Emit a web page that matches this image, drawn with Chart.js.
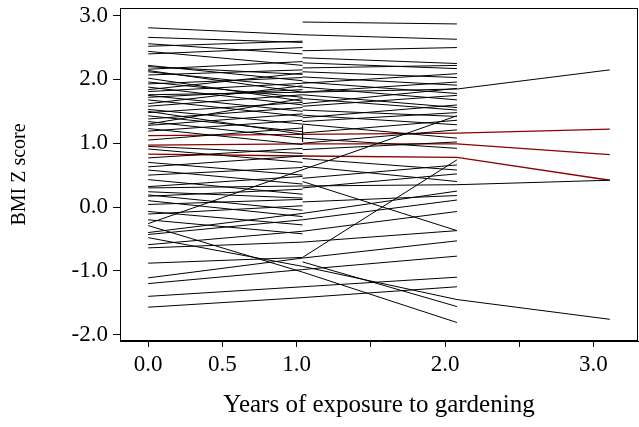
<!DOCTYPE html>
<html>
<head>
<meta charset="utf-8">
<script src="https://cdn.jsdelivr.net/npm/chart.js@4/dist/chart.umd.min.js"></script>
<style>
  html, body { margin: 0; padding: 0; background: #fff; }
  #wrap { width: 639px; height: 427px; }
</style>
</head>
<body>
<div id="wrap"><canvas id="chart" width="639" height="427"></canvas></div>
<script>
// measurement times (years of exposure) for visit 0..3
var years = [0, 1.04, 2.08, 3.11];

// axis ticks
var xTicks = [0, 0.5, 1, 1.5, 2, 2.5, 3];
var xTickLabels = ['0.0', '0.5', '1.0', '', '2.0', '', '3.0'];
var yTicks = [-2, -1, 0, 1, 2, 3];

// BMI z score per child at each visit (null = not measured)
var blackSubjects = [
  // followed from baseline through year 2 (or 3)
  [2.81, 2.70, 2.63, null],
  [1.76, 1.80, 1.85, 2.15],
  [0.30, 0.33, 0.35, 0.42],
  [-0.26, null, 1.43, null],
  [-0.88, -0.79, 0.74, null],
  [-0.48, -0.93, -1.45, -1.76],
  [-0.29, -1.02, -1.81, null],
  [-1.57, -1.42, -1.25, null],
  [-1.40, -1.25, -1.10, null],
  [-1.20, -0.98, -0.77, null],
  [-1.11, -0.80, -0.53, null],
  [-0.64, -0.55, -0.37, null],
  [-0.59, -0.38, -0.07, null],
  [-0.43, -0.20, 0.11, null],
  [-0.40, -0.10, 0.25, null],
  // baseline to year 1 only
  [2.66, 2.58, null, null],
  [2.56, 2.40, null, null],
  [2.52, 2.60, null, null],
  [2.44, 2.22, null, null],
  [2.40, 2.50, null, null],
  [2.22, 1.98, null, null],
  [2.20, 2.08, null, null],
  [2.16, 2.28, null, null],
  [2.14, 1.80, null, null],
  [2.12, 1.88, null, null],
  [2.07, 2.15, null, null],
  [2.02, 1.66, null, null],
  [1.96, 1.72, null, null],
  [1.93, 2.03, null, null],
  [1.88, 1.60, null, null],
  [1.84, 2.10, null, null],
  [1.81, 1.94, null, null],
  [1.75, 1.50, null, null],
  [1.72, 1.84, null, null],
  [1.68, 1.42, null, null],
  [1.62, 1.90, null, null],
  [1.58, 1.76, null, null],
  [1.53, 1.30, null, null],
  [1.50, 1.14, null, null],
  [1.48, 1.64, null, null],
  [1.43, 1.18, null, null],
  [1.38, 1.56, null, null],
  [1.34, 1.08, null, null],
  [1.30, 1.70, null, null],
  [1.28, 1.46, null, null],
  [1.23, 0.98, null, null],
  [1.19, 1.36, null, null],
  [1.05, 1.24, null, null],
  [0.95, 0.84, null, null],
  [0.91, 0.70, null, null],
  [0.77, 0.92, null, null],
  [0.70, 0.50, null, null],
  [0.63, 0.80, null, null],
  [0.58, 0.36, null, null],
  [0.50, 0.62, null, null],
  [0.43, 0.20, null, null],
  [0.32, 0.48, null, null],
  [0.24, 0.14, null, null],
  [0.19, -0.05, null, null],
  [0.17, 0.28, null, null],
  [0.10, -0.15, null, null],
  [0.04, 0.12, null, null],
  [-0.07, -0.28, null, null],
  [-0.11, 0.02, null, null],
  [-0.20, -0.42, null, null],
  // year 1 to year 2 only
  [null, 2.90, 2.87, null],
  [null, 2.45, 2.50, null],
  [null, 2.34, 2.25, null],
  [null, 2.26, 2.17, null],
  [null, 2.18, 2.22, null],
  [null, 1.94, 2.09, null],
  [null, 2.12, 2.03, null],
  [null, 1.80, 1.96, null],
  [null, 2.04, 1.91, null],
  [null, 1.62, 1.86, null],
  [null, 1.58, 1.75, null],
  [null, 1.88, 1.68, null],
  [null, 1.96, 1.78, null],
  [null, 1.40, 1.60, null],
  [null, 1.70, 1.52, null],
  [null, 1.76, 1.56, null],
  [null, 1.52, 1.42, null],
  [null, 1.34, 1.48, null],
  [null, 1.16, 1.36, null],
  [null, 1.44, 1.29, null],
  [null, 1.00, 1.21, null],
  [null, 1.30, 1.08, null],
  [null, 1.08, 0.92, null],
  [null, 0.90, 1.02, null],
  [null, 0.45, 0.66, null],
  [null, 0.76, 0.58, null],
  [null, 0.30, 0.52, null],
  [null, 0.64, 0.40, null],
  [null, 0.40, -0.37, null],
  [null, 0.08, 0.18, null],
  [null, -0.86, -1.56, null]
];

// two measurements recorded at the year-1 visit
var repeatVisit = [1.28, 1.02];

var redSubjects = [
  [1.12, 1.14, 1.16, 1.22],
  [0.97, 0.99, 0.99, 0.82],
  [0.83, 0.80, 0.78, 0.42]
];

function toPoints(row) {
  var pts = [];
  row.forEach(function (v, i) {
    if (v !== null) pts.push({ x: years[i], y: v });
  });
  return pts;
}

var datasets = [];
blackSubjects.forEach(function (row) {
  datasets.push({ data: toPoints(row), borderColor: '#000', borderWidth: 1 });
});
datasets.push({
  data: repeatVisit.map(function (v) { return { x: years[1], y: v }; }),
  borderColor: '#000', borderWidth: 1
});
redSubjects.forEach(function (row) {
  datasets.push({ data: toPoints(row), borderColor: '#8b0000', borderWidth: 1.3 });
});

var serif = 'Liberation Serif, Times New Roman, serif';

var frame = {
  id: 'frame',
  afterDraw: function (chart) {
    var a = chart.chartArea, ctx = chart.ctx;
    ctx.save();
    ctx.strokeStyle = '#000';
    ctx.lineWidth = 1;
    ctx.strokeRect(a.left + 0.5, a.top + 0.5, a.right - a.left - 1, a.bottom - a.top - 1);
    ctx.restore();
  }
};

new Chart(document.getElementById('chart'), {
  type: 'line',
  data: { datasets: datasets },
  plugins: [frame],
  options: {
    responsive: false,
    animation: false,
    devicePixelRatio: 1,
    layout: { padding: { top: 8, right: 1, left: 0, bottom: 0 } },
    elements: { point: { radius: 0, hoverRadius: 0 }, line: { tension: 0 } },
    plugins: { legend: { display: false }, tooltip: { enabled: false } },
    scales: {
      x: {
        type: 'linear',
        min: -0.19,
        max: 3.30,
        afterBuildTicks: function (s) { s.ticks = xTicks.map(function (v) { return { value: v }; }); },
        afterFit: function (s) { s.height = 86; s.paddingLeft = 0; s.paddingRight = 0; },
        border: { display: true, color: '#000', width: 1 },
        grid: { drawOnChartArea: false, drawTicks: true, tickLength: 6, color: '#000' },
        ticks: {
          autoSkip: false, maxRotation: 0, padding: 4, color: '#000',
          font: { family: serif, size: 23 },
          callback: function (v, i) { return xTickLabels[i]; }
        },
        title: {
          display: true, text: 'Years of exposure to gardening', color: '#000',
          font: { family: serif, size: 25 }, padding: { top: 0, bottom: 7 }
        }
      },
      y: {
        type: 'linear',
        min: -2.1,
        max: 3.12,
        afterBuildTicks: function (s) { s.ticks = yTicks.map(function (v) { return { value: v }; }); },
        afterFit: function (s) { s.width = 120; s.paddingTop = 0; s.paddingBottom = 0; },
        border: { display: true, color: '#000', width: 1 },
        grid: { drawOnChartArea: false, drawTicks: true, tickLength: 7, color: '#000' },
        ticks: {
          padding: 5, color: '#000',
          font: { family: serif, size: 23 },
          callback: function (v) { return v.toFixed(1); }
        },
        title: {
          display: true, text: 'BMI Z score', color: '#000',
          font: { family: serif, size: 20 }, padding: { top: 8, bottom: 0 }
        }
      }
    }
  }
});
</script>
</body>
</html>
